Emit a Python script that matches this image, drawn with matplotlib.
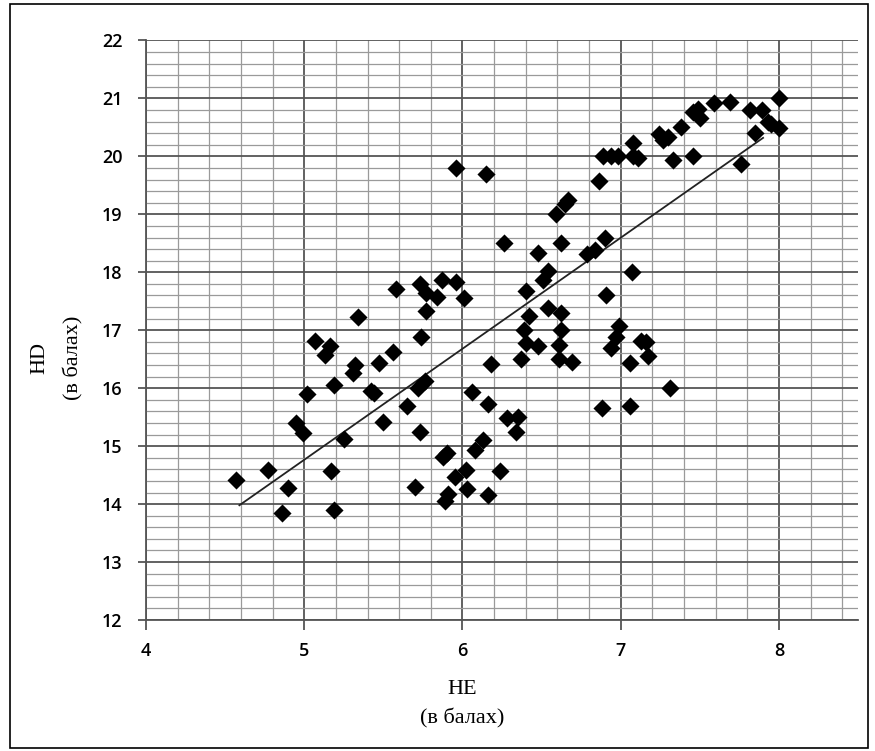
import matplotlib
matplotlib.use("Agg")
import matplotlib.pyplot as plt
from matplotlib.patches import Rectangle
from matplotlib.ticker import MultipleLocator

# HE / HD scores
he = [4.57, 4.77, 4.90, 4.86, 4.95, 4.99, 5.17, 5.19, 5.25, 5.50,
      5.02, 5.07, 5.16, 5.13, 5.19, 5.34, 5.32, 5.31, 5.47, 5.42,
      5.44, 5.56, 5.58, 5.73, 5.77, 5.84, 5.87, 5.96, 6.01, 5.77,
      5.74, 5.65, 5.72, 5.76, 5.73, 5.70, 6.18, 6.06, 6.16, 6.28,
      6.35, 6.34, 6.13, 6.08, 5.90, 5.88, 6.02, 5.95, 6.24, 6.03,
      5.91, 5.89, 6.16, 6.88, 7.06,
      6.26, 6.48, 6.62, 6.59, 6.65, 6.67, 6.54, 6.51, 6.40, 6.79,
      6.84, 6.90, 7.07, 6.91, 6.42, 6.39, 6.40, 6.48, 6.37, 6.54,
      6.62, 6.62, 6.61, 6.61, 6.69, 6.99, 6.97, 6.94, 7.13, 7.16,
      7.06, 7.17, 7.31,
      5.96, 6.15, 6.86, 6.89, 6.94, 6.98, 7.08, 7.11, 7.08, 7.24,
      7.27, 7.30, 7.33, 7.38, 7.46, 7.46, 7.50, 7.49, 7.59, 7.69,
      7.76, 7.82, 7.89, 7.85, 7.93, 7.95, 8.00, 8.00]
hd = [14.42, 14.59, 14.28, 13.84, 15.40, 15.23, 14.57, 13.90, 15.12, 15.41,
      15.90, 16.81, 16.72, 16.58, 16.06, 17.23, 16.40, 16.27, 16.44, 15.96,
      15.92, 16.62, 17.71, 17.80, 17.64, 17.57, 17.87, 17.84, 17.56, 17.34,
      16.88, 15.69, 16.00, 16.13, 15.25, 14.29, 16.41, 15.94, 15.73, 15.49,
      15.51, 15.25, 15.11, 14.94, 14.88, 14.82, 14.59, 14.47, 14.57, 14.26,
      14.17, 14.06, 14.15, 15.65, 15.69,
      18.50, 18.34, 18.51, 19.01, 19.18, 19.24, 18.02, 17.86, 17.67, 18.31,
      18.39, 18.59, 18.01, 17.61, 17.25, 17.01, 16.78, 16.72, 16.51, 17.38,
      17.30, 17.01, 16.75, 16.51, 16.46, 17.07, 16.89, 16.69, 16.81, 16.79,
      16.44, 16.56, 16.01,
      19.80, 19.70, 19.57, 20.00, 20.00, 20.00, 20.00, 19.98, 20.23, 20.38,
      20.28, 20.33, 19.94, 20.50, 20.00, 20.76, 20.67, 20.81, 20.92, 20.93,
      19.87, 20.80, 20.80, 20.41, 20.60, 20.56, 21.00, 20.49]

# linear trend line ends
trend_x = [4.59, 7.90]
trend_y = [13.98, 20.32]

fig = plt.figure(figsize=(8.75, 7.51), dpi=100)
ax = fig.add_axes([0.1669, 0.1744, 0.8137, 0.7717])

ax.set_xlim(4, 8.5)
ax.set_ylim(12, 22)
ax.xaxis.set_major_locator(MultipleLocator(1))
ax.xaxis.set_minor_locator(MultipleLocator(0.2))
ax.yaxis.set_major_locator(MultipleLocator(1))
ax.yaxis.set_minor_locator(MultipleLocator(0.2))

ax.grid(True, which='major', color='#555555', linewidth=1.3)
ax.grid(True, which='minor', color='#9a9a9a', linewidth=0.9)
ax.set_axisbelow(True)

ax.plot(trend_x, trend_y, color='#222222', linewidth=1.3, zorder=3)
ax.scatter(he, hd, marker='D', s=85, color='black', zorder=4, linewidths=0)

for side in ['top', 'right']:
    ax.spines[side].set_visible(False)
for side in ['left', 'bottom']:
    ax.spines[side].set_color('#555555')
    ax.spines[side].set_linewidth(1.3)

ax.tick_params(which='major', width=1.3, color='#555555', labelsize=13)
ax.tick_params(axis='x', which='major', length=7, pad=9)
ax.tick_params(axis='y', which='major', length=6, pad=11)
ax.tick_params(which='minor', length=0)
for lab in ax.get_xticklabels() + ax.get_yticklabels():
    lab.set_fontfamily('Open Sans')
    lab.set_fontweight('semibold')

serif = 'Liberation Serif'
fig.text(462 / 875, 1 - 690 / 751, 'HE', ha='center', va='center',
         fontsize=16, family=serif)
fig.text(462 / 875, 1 - 718 / 751, '(в балах)', ha='center', va='center',
         fontsize=16, family=serif)
fig.text(40 / 875, 1 - 358 / 751, 'HD', ha='center', va='center',
         fontsize=16, family=serif, rotation=90)
fig.text(73 / 875, 1 - 358 / 751, '(в балах)', ha='center', va='center',
         fontsize=16, family=serif, rotation=90)

fig.patches.append(Rectangle((10 / 875, 3 / 751), 858 / 875, 744 / 751,
                             transform=fig.transFigure, fill=False,
                             edgecolor='black', linewidth=1.2))

fig.savefig('out.png', dpi=100)
